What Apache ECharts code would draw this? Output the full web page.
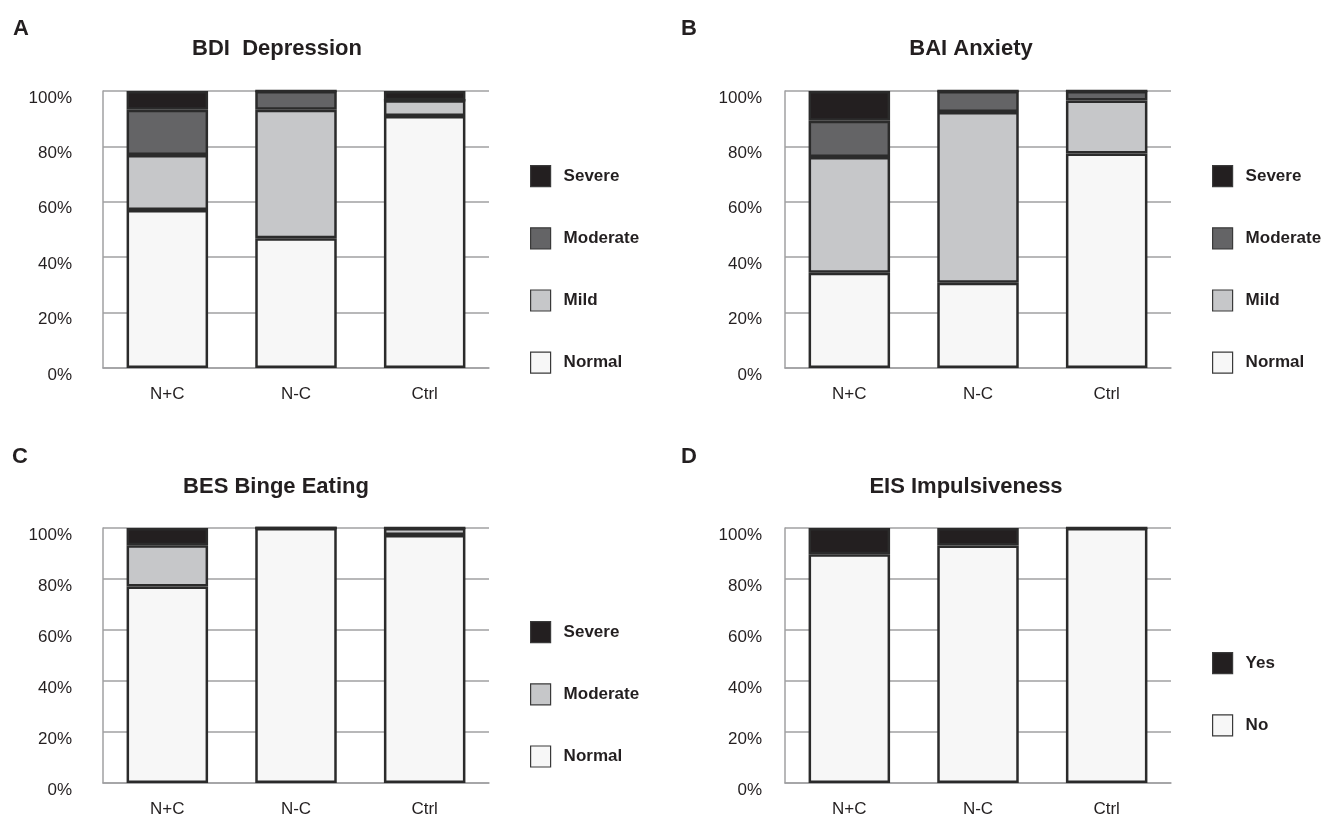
<!DOCTYPE html>
<html>
<head>
<meta charset="utf-8">
<script src="https://cdn.jsdelivr.net/npm/echarts@6/dist/echarts.min.js"></script>
<style>
html,body{margin:0;padding:0;background:#fff;}
#chart{width:1325px;height:818px;}
</style>
</head>
<body>
<div id="chart"></div>
<script>
// ---- data ----
const categories = ['N+C', 'N-C', 'Ctrl'];

const bdiNormal   = [57.0, 46.8, 91.0];
const bdiMild     = [19.9, 46.4, 5.7];
const bdiModerate = [16.3, 6.8, 0];
const bdiSevere   = [6.8, 0, 3.3];

const baiNormal   = [34.4, 30.8, 77.4];
const baiMild     = [41.8, 61.6, 19.2];
const baiModerate = [13.1, 7.6, 3.4];
const baiSevere   = [10.7, 0, 0];

const besNormal   = [77.1, 100, 97.3];
const besModerate = [16.1, 0, 2.7];
const besSevere   = [6.8, 0, 0];

const eisNo  = [89.7, 93.1, 100];
const eisYes = [10.3, 6.9, 0];

const panelTitles = ['BDI  Depression', 'BAI Anxiety', 'BES Binge Eating', 'EIS Impulsiveness'];
const panelLetters = ['A', 'B', 'C', 'D'];
const yTickSuffix = '%';

// ---- styles ----
const FONT = 'Liberation Sans, Arial, sans-serif';
const TXT = '#231f20';
const GRIDC = '#a0a0a2';
const COL = { severe: '#231f20', moderate: '#646466', mild: '#c6c7c9', normal: '#f7f7f7' };
const BORDER = '#2b2b2b';

const grids = [
  { left: 103, top: 91, width: 386, height: 277 },
  { left: 785, top: 91, width: 386, height: 277 },
  { left: 103, top: 528, width: 386, height: 256 },
  { left: 785, top: 528, width: 386, height: 256 }
];
const yLabelMargin = [31, 23, 31, 23];

const xAxes = grids.map((g, i) => ({
  type: 'category', gridIndex: i, data: categories,
  axisTick: { show: false },
  axisLine: { show: true, lineStyle: { color: GRIDC, width: 1.5 } },
  axisLabel: { fontFamily: FONT, fontSize: 17, color: TXT, margin: 18 }
}));
const yAxes = grids.map((g, i) => ({
  type: 'value', gridIndex: i, min: 0, max: 100, interval: 20,
  axisTick: { show: false },
  axisLine: { show: true, lineStyle: { color: GRIDC, width: 1.5 } },
  splitLine: { show: true, lineStyle: { color: GRIDC, width: 1.5 } },
  axisLabel: { fontFamily: FONT, fontSize: 17, color: TXT, margin: yLabelMargin[i],
    verticalAlign: 'top', lineHeight: 14, formatter: v => v + yTickSuffix }
}));

function bar(name, data, color, idx) {
  return {
    type: 'bar', name: name, data: data, stack: 'p' + idx,
    xAxisIndex: idx, yAxisIndex: idx, barWidth: 81.5,
    itemStyle: { color: color, borderColor: BORDER, borderWidth: 2.5 },
    emphasis: { disabled: true }, animation: false
  };
}

const series = [
  bar('Normal', bdiNormal, COL.normal, 0),
  bar('Mild', bdiMild, COL.mild, 0),
  bar('Moderate', bdiModerate, COL.moderate, 0),
  bar('Severe', bdiSevere, COL.severe, 0),
  bar('Normal', baiNormal, COL.normal, 1),
  bar('Mild', baiMild, COL.mild, 1),
  bar('Moderate', baiModerate, COL.moderate, 1),
  bar('Severe', baiSevere, COL.severe, 1),
  bar('Normal', besNormal, COL.normal, 2),
  bar('Moderate', besModerate, COL.mild, 2),
  bar('Severe', besSevere, COL.severe, 2),
  bar('No', eisNo, COL.normal, 3),
  bar('Yes', eisYes, COL.severe, 3)
];

function legend(left, top, items) {
  return {
    orient: 'vertical', left: left, top: top, padding: 0,
    itemWidth: 20, itemHeight: 21, itemGap: 40,
    selectedMode: false,
    itemStyle: { borderColor: '#3a3a3a', borderWidth: 1.2 },
    textStyle: { fontFamily: FONT, fontSize: 17, fontWeight: 'bold', color: TXT, padding: [0, 0, 0, 8] },
    data: items.map(it => ({ name: it[0], icon: 'rect', itemStyle: { color: it[1], borderColor: '#3a3a3a', borderWidth: 1.2 } }))
  };
}

const legends = [
  legend(530, 165, [['Severe', COL.severe], ['Moderate', COL.moderate], ['Mild', COL.mild], ['Normal', COL.normal]]),
  legend(1212, 165, [['Severe', COL.severe], ['Moderate', COL.moderate], ['Mild', COL.mild], ['Normal', COL.normal]]),
  legend(530, 621, [['Severe', COL.severe], ['Moderate', COL.mild], ['Normal', COL.normal]]),
  legend(1212, 652, [['Yes', COL.severe], ['No', COL.normal]])
];

const titlePos = [[277, 49], [971, 49], [276, 487], [966, 487]];
const letterPos = [[21, 29], [689, 29], [20, 457], [689, 457]];
const graphics = [];
panelTitles.forEach((t, i) => graphics.push({
  type: 'text', x: titlePos[i][0], y: titlePos[i][1],
  style: { text: t, fill: TXT, font: 'bold 22px ' + FONT, textAlign: 'center', textVerticalAlign: 'middle' }
}));
panelLetters.forEach((t, i) => graphics.push({
  type: 'text', x: letterPos[i][0], y: letterPos[i][1],
  style: { text: t, fill: TXT, font: 'bold 22px ' + FONT, textAlign: 'center', textVerticalAlign: 'middle' }
}));

const chart = echarts.init(document.getElementById('chart'), null, { renderer: 'canvas' });
chart.setOption({
  backgroundColor: '#ffffff',
  animation: false,
  grid: grids,
  xAxis: xAxes,
  yAxis: yAxes,
  legend: legends,
  series: series,
  graphic: graphics
});
</script>
</body>
</html>
